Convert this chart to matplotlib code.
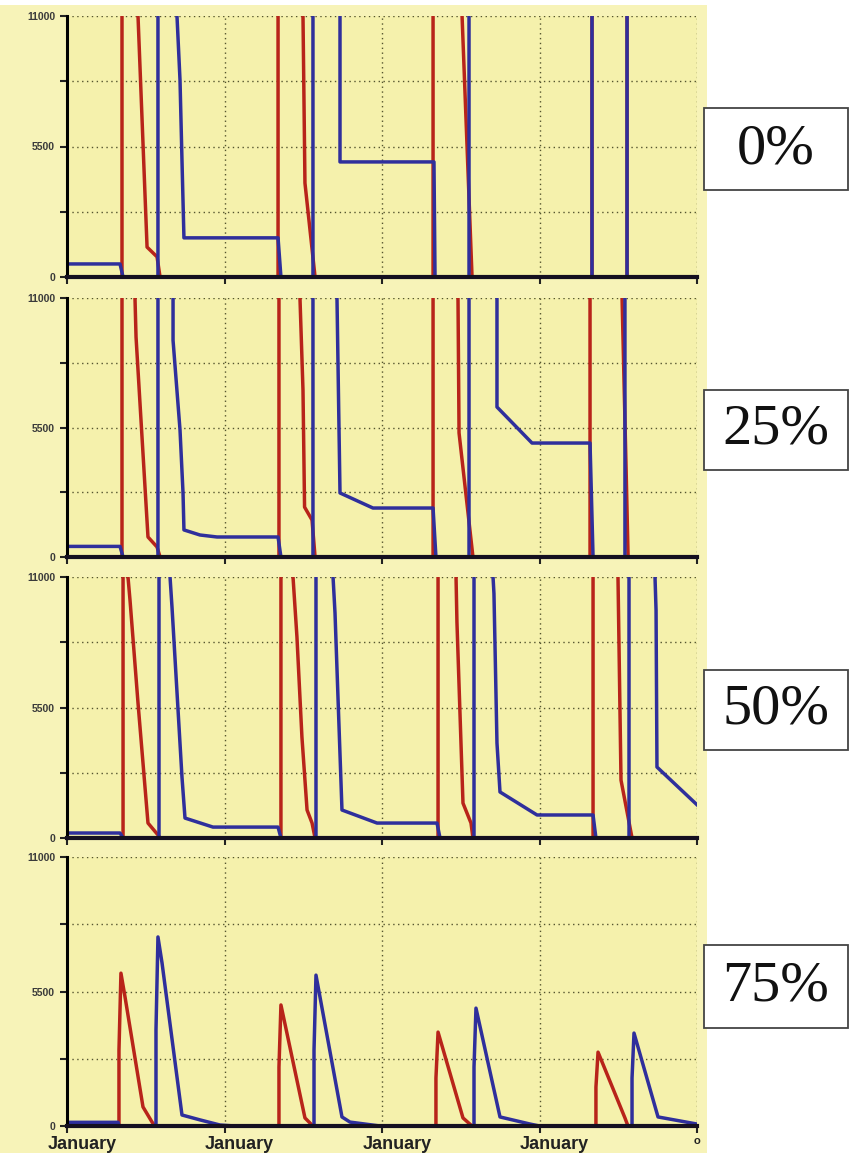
import matplotlib.pyplot as plt
import matplotlib.transforms as mtransforms
from matplotlib.patches import Rectangle

# time in months from the first January, stock level per product
# values above 11000 run off the top of the panel
red_0_t = [0, 4.19, 4.19, 5.41, 6.10, 6.86, 7.09, 16.08, 16.08, 17.98, 18.13, 18.90,
           27.89, 27.89, 30.10, 30.86, 40.0, 40.0, 42.67, 42.67, 48]
red_0_v = [0, 0, 16000, 11000, 1260, 850, 0, 0, 16000, 11000, 3960, 0,
           0, 16000, 11000, 0, 0, 16000, 16000, 0, 0]
blue_0_t = [0, 4.04, 4.27, 6.93, 6.93, 8.38, 8.61, 8.76, 8.91, 16.08, 16.30, 18.74, 18.74,
            20.80, 20.80, 27.96, 28.04, 30.63, 30.63, 40.0, 40.0, 42.67, 42.67, 48]
blue_0_v = [550, 550, 0, 0, 16000, 11000, 8300, 4930, 1650, 1650, 0, 0, 16000,
            11000, 4850, 4850, 0, 0, 16000, 16000, 0, 0, 16000, 16000]

red_25_t = [0, 4.19, 4.19, 5.18, 5.26, 6.17, 6.86, 7.09, 16.15, 16.15, 17.75, 17.98, 18.10,
            18.67, 18.90, 27.89, 27.89, 29.79, 29.87, 30.93, 39.85, 39.85, 42.29, 42.60,
            42.75, 48]
red_25_v = [0, 0, 16000, 11000, 9340, 850, 425, 0, 0, 16000, 11000, 7090, 2120,
            1570, 0, 0, 16000, 11000, 5270, 0, 0, 16000, 11000, 3690,
            0, 0]
blue_25_t = [0, 4.04, 4.27, 6.93, 6.93, 8.08, 8.08, 8.61, 8.84, 8.91, 10.13, 11.43, 16.08,
             16.30, 18.74, 18.74, 20.57, 20.80, 23.31, 27.89, 28.11, 30.63, 30.63, 32.76,
             32.76, 35.43, 39.85, 40.08, 42.51, 42.51, 48]
blue_25_v = [450, 450, 0, 0, 16000, 11000, 9200, 5400, 2720, 1150, 935, 850, 850,
             0, 0, 16000, 11000, 2720, 2080, 2080, 0, 0, 16000, 11000,
             6370, 4840, 4840, 0, 0, 16000, 16000]

red_50_t = [0, 4.27, 4.27, 4.60, 4.80, 5.41, 6.17, 6.93, 7.09, 16.30, 16.30, 17.22, 17.52,
            17.90, 18.29, 18.67, 18.90, 28.27, 28.27, 29.64, 29.71, 30.17, 30.78, 30.93,
            40.08, 40.08, 41.98, 42.21, 43.05, 48]
red_50_v = [0, 0, 11300, 11300, 10030, 5690, 630, 130, 0, 0, 16000, 11000, 8470,
            4250, 1180, 630, 0, 0, 16000, 11000, 9100, 1470, 630, 0,
            0, 16000, 11000, 2440, 0, 0]
blue_50_t = [0, 4.04, 4.27, 7.01, 7.01, 7.85, 8.00, 8.76, 8.99, 11.12, 16.08, 16.30, 18.97,
             18.97, 20.27, 20.42, 20.95, 23.62, 28.19, 28.42, 31.01, 31.01, 32.46, 32.53,
             32.76, 32.99, 35.81, 40.08, 40.30, 42.82, 42.82, 44.80, 44.88, 44.95, 48]
blue_50_v = [210, 210, 0, 0, 16000, 11000, 9730, 2570, 840, 460, 460, 0, 0,
             16000, 11000, 9480, 1180, 630, 630, 0, 0, 16000, 11000, 10300,
             4000, 1940, 970, 970, 0, 0, 16000, 11000, 9600, 2990, 1400]

red_75_t = [0, 3.96, 3.96, 4.11, 4.42, 5.79, 6.48, 6.70, 16.15, 16.15, 16.30, 18.13, 18.74,
            28.11, 28.11, 28.27, 30.17, 30.86, 40.30, 40.30, 40.46, 42.51, 42.74, 48]
red_75_v = [0, 0, 3100, 6250, 5280, 780, 160, 0, 0, 2410, 4950, 330, 0,
            0, 1960, 3840, 330, 0, 0, 1590, 3020, 330, 0, 0]
blue_75_t = [0, 3.89, 3.96, 6.78, 6.78, 6.93, 7.24, 8.76, 10.13, 11.66, 12.80, 18.82, 18.82,
             18.97, 20.95, 21.56, 23.85, 31.01, 31.01, 31.16, 32.99, 35.28, 36.00, 43.05,
             43.05, 43.20, 45.03, 48]
blue_75_v = [150, 150, 0, 0, 3930, 7730, 6670, 450, 250, 40, 0, 0, 3100,
             6170, 370, 160, 0, 0, 2410, 4820, 370, 80, 0, 0,
             1960, 3800, 370, 80]

panel_labels = ['0%', '25%', '50%', '75%']
month_ticks = [0, 12, 24, 36, 48]
month_labels = ['January', 'January', 'January', 'January', 'o']
y_ticks = [0, 2750, 5500, 8250, 11000]
y_labels = ['0', '', '5500', '', '11000']

series = [(red_0_t, red_0_v, blue_0_t, blue_0_v),
          (red_25_t, red_25_v, blue_25_t, blue_25_v),
          (red_50_t, red_50_v, blue_50_t, blue_50_v),
          (red_75_t, red_75_v, blue_75_t, blue_75_v)]

W, H = 851, 1153
fig = plt.figure(figsize=(W / 100, H / 100), dpi=100)

# yellow backdrop of the left part, white on the right
fig.patches.append(Rectangle((0, 0), 707 / W, 1 - 5 / H, transform=fig.transFigure,
                             fc='#F7F3B8', ec='none', zorder=-10))

# panel frames in pixels: (top, bottom)
panel_px = [(16, 277), (298, 557), (577, 838), (857, 1126)]
box_px = [(108, 190), (390, 470), (670, 750), (945, 1028)]
left, right = 67, 697

for i, (top, bottom) in enumerate(panel_px):
    ax = fig.add_axes([left / W, 1 - bottom / H, (right - left) / W, (bottom - top) / H])
    ax.set_zorder(2)
    ax.set_facecolor('#F5F1AC')
    rt, rv, bt, bv = series[i]
    ax.plot(rt, rv, color='#B8241A', lw=2.5, zorder=3)
    ax.plot(bt, bv, color='#2F2F9C', lw=2.5, zorder=4)

    ax.set_xlim(0, 48)
    ax.set_ylim(0, 11000)
    for s in ['top', 'right']:
        ax.spines[s].set_visible(False)
    ax.spines['left'].set_linewidth(2.2)
    ax.spines['bottom'].set_linewidth(3)
    ax.spines['bottom'].set_color('#151020')
    for s in ['left', 'bottom']:
        ax.spines[s].set_zorder(5)

    ax.set_yticks(y_ticks)
    ax.set_yticklabels(y_labels, fontsize=7.5, fontweight='bold', color='#3a3a3a',
                       family='Liberation Sans')
    ax.set_xticks(month_ticks)
    ax.tick_params(axis='both', direction='out', length=5, width=1.5, color='#222222')
    ax.tick_params(axis='x', pad=2)
    ax.grid(True, color='#55552F', lw=1, linestyle=(0, (1, 2.5)))
    ax.set_axisbelow(True)

    if i == 3:
        ax.set_xticklabels(month_labels, fontsize=13, fontweight='bold',
                           family='Liberation Sans', color='#222222')
        shift = mtransforms.ScaledTranslation(15 / 100, 0, fig.dpi_scale_trans)
        labels = ax.get_xticklabels()
        for lab in labels[:-1]:
            lab.set_transform(lab.get_transform() + shift)
        labels[-1].set_fontsize(8)
    else:
        ax.set_xticklabels([])

    # label box on the right
    b_top, b_bot = box_px[i]
    fig.patches.append(Rectangle((704 / W, 1 - b_bot / H), 144 / W, (b_bot - b_top) / H,
                                 transform=fig.transFigure, fc='white', ec='#444444',
                                 lw=1.3, zorder=1))
    fig.text(776 / W, 1 - (b_top + b_bot) / 2 / H, panel_labels[i], fontsize=42,
             family='Liberation Serif', ha='center', va='center', color='#111111')

fig.savefig('out.png', dpi=100)
